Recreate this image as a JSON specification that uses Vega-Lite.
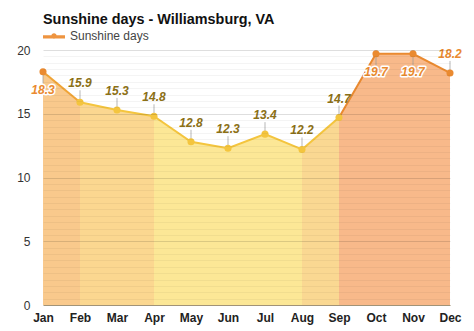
{
  "$schema": "https://vega.github.io/schema/vega-lite/v6.json",
  "width": 407,
  "height": 255,
  "autosize": {"type": "none"},
  "padding": {"left": 43, "top": 50, "right": 24, "bottom": 26},
  "background": "#ffffff",
  "config": {
    "font": "Liberation Sans",
    "view": {"stroke": null}
  },
  "title": {
    "text": "Sunshine days - Williamsburg, VA",
    "anchor": "start",
    "frame": "group",
    "font": "Liberation Sans",
    "fontSize": 14.4,
    "fontWeight": "bold",
    "color": "#111111",
    "offset": -2
  },
  "datasets": {
    "sun": [
      {"month": "Jan", "days": 18.3},
      {"month": "Feb", "days": 15.9},
      {"month": "Mar", "days": 15.3},
      {"month": "Apr", "days": 14.8},
      {"month": "May", "days": 12.8},
      {"month": "Jun", "days": 12.3},
      {"month": "Jul", "days": 13.4},
      {"month": "Aug", "days": 12.2},
      {"month": "Sep", "days": 14.7},
      {"month": "Oct", "days": 19.7},
      {"month": "Nov", "days": 19.7},
      {"month": "Dec", "days": 18.2}
    ],
    "bands": [
      {"seg": "a", "month": "Jan", "days": 18.3},
      {"seg": "a", "month": "Feb", "days": 15.9},
      {"seg": "b", "month": "Feb", "days": 15.9},
      {"seg": "b", "month": "Mar", "days": 15.3},
      {"seg": "b", "month": "Apr", "days": 14.8},
      {"seg": "c", "month": "Apr", "days": 14.8},
      {"seg": "c", "month": "May", "days": 12.8},
      {"seg": "c", "month": "Jun", "days": 12.3},
      {"seg": "c", "month": "Jul", "days": 13.4},
      {"seg": "c", "month": "Aug", "days": 12.2},
      {"seg": "d", "month": "Aug", "days": 12.2},
      {"seg": "d", "month": "Sep", "days": 14.7},
      {"seg": "e", "month": "Sep", "days": 14.7},
      {"seg": "e", "month": "Oct", "days": 19.7},
      {"seg": "e", "month": "Nov", "days": 19.7},
      {"seg": "e", "month": "Dec", "days": 18.2}
    ]
  },
  "encoding": {
    "x": {
      "field": "month",
      "type": "ordinal",
      "sort": ["Jan","Feb","Mar","Apr","May","Jun","Jul","Aug","Sep","Oct","Nov","Dec"],
      "scale": {"type": "point", "padding": 0},
      "axis": {
        "title": null,
        "labelAngle": 0,
        "labelFont": "Liberation Sans",
        "labelFontSize": 12,
        "labelFontWeight": "bold",
        "labelColor": "#222222",
        "labelPadding": 7,
        "ticks": false,
        "domain": true,
        "domainColor": "#b9a98a",
        "grid": false
      }
    },
    "y": {
      "field": "days",
      "type": "quantitative",
      "scale": {"domain": [0, 20], "nice": false},
      "axis": {
        "title": null,
        "values": [0,0.5,1,1.5,2,2.5,3,3.5,4,4.5,5,5.5,6,6.5,7,7.5,8,8.5,9,9.5,10,10.5,11,11.5,12,12.5,13,13.5,14,14.5,15,15.5,16,16.5,17,17.5,18,18.5,19,19.5,20],
        "labelExpr": "datum.value % 5 === 0 ? format(datum.value, 'd') : ''",
        "labelFont": "Liberation Sans",
        "labelFontSize": 12,
        "labelColor": "#333333",
        "labelPadding": 13,
        "ticks": false,
        "tickSize": 0,
        "domain": false,
        "grid": true,
        "gridColor": {"condition": {"test": "datum.value % 5 === 0", "value": "rgba(0,0,0,0.13)"}, "value": "rgba(0,0,0,0.045)"},
        "zindex": 1
      }
    }
  },
  "layer": [
    {
      "data": {"name": "bands"},
      "mark": {"type": "area", "opacity": 1},
      "encoding": {
        "y": {"field": "days", "type": "quantitative", "stack": null},
        "detail": {"field": "seg"},
        "fill": {
          "field": "seg",
          "type": "nominal",
          "scale": {"domain": ["a","b","c","d","e"], "range": ["#f9c98c","#fbd790","#fce796","#fad892","#f8b98a"]},
          "legend": null
        }
      }
    },
    {
      "data": {"name": "bands"},
      "mark": {"type": "line", "strokeWidth": 2},
      "encoding": {
        "detail": {"field": "seg"},
        "stroke": {
          "field": "seg",
          "type": "nominal",
          "scale": {"domain": ["a","b","c","d","e"], "range": ["#f0a436","#f4c53e","#f4c53e","#f4c53e","#ea8a30"]},
          "legend": null
        }
      }
    },
    {
      "data": {"name": "sun"},
      "transform": [{"filter": "indexof(['Jan','Oct','Nov'], datum.month) < 0"}],
      "mark": {"type": "point", "shape": "M0,-0.6V-3", "size": 64, "filled": false, "stroke": "#9a9a9a", "strokeWidth": 1}
    },
    {
      "data": {"name": "sun"},
      "transform": [{"filter": "indexof(['Jan','Oct','Nov'], datum.month) >= 0"}],
      "mark": {"type": "point", "shape": "M0,0.6V3", "size": 64, "filled": false, "stroke": "#9a9a9a", "strokeWidth": 1}
    },
    {
      "data": {"name": "sun"},
      "mark": {"type": "point", "filled": true, "size": 50, "opacity": 1, "shape": "circle"},
      "encoding": {
        "fill": {
          "condition": {"test": "indexof(['Jan','Oct','Nov','Dec'], datum.month) >= 0", "value": "#ea8a30"},
          "value": "#f4c53e"
        }
      }
    },
    {
      "data": {"name": "sun"},
      "transform": [{"filter": "false"}],
      "mark": {"type": "point", "filled": true, "fill": "#ee9440", "opacity": 1},
      "encoding": {
        "shape": {
          "datum": "Sunshine days",
          "scale": {"range": ["M-1,-0.06H1V0.22H-1Z M0.24,0 A0.24,0.24 0 1,1 -0.24,0 A0.24,0.24 0 1,1 0.24,0Z"]},
          "legend": {
            "title": null,
            "orient": "none",
            "legendX": 0,
            "legendY": -25,
            "labelFont": "Liberation Sans",
            "labelFontSize": 12,
            "labelColor": "#444444",
            "labelOffset": 5,
            "symbolSize": 484,
            "symbolFillColor": "#ee9440",
            "symbolStrokeColor": "#ee9440",
            "symbolStrokeWidth": 0,
            "symbolOpacity": 1
          }
        }
      }
    },
    {
      "data": {"name": "sun"},
      "transform": [{"filter": "indexof(['Jan','Oct','Nov'], datum.month) < 0"}],
      "mark": {"type": "text", "dy": -19, "fontSize": 12, "fontWeight": "bold", "fontStyle": "italic", "font": "Liberation Sans"},
      "encoding": {
        "text": {"field": "days", "type": "quantitative", "format": ".1f"},
        "color": {
          "condition": {"test": "datum.month === 'Dec'", "value": "#ea8a30"},
          "value": "#8c7016"
        }
      }
    },
    {
      "data": {"name": "sun"},
      "transform": [{"filter": "indexof(['Jan','Oct','Nov'], datum.month) >= 0"}],
      "mark": {"type": "text", "dy": 18, "fontSize": 12, "fontWeight": "bold", "fontStyle": "italic", "font": "Liberation Sans", "stroke": "#ffffff", "strokeWidth": 3, "strokeJoin": "round", "fill": "#ffffff"},
      "encoding": {
        "text": {"field": "days", "type": "quantitative", "format": ".1f"}
      }
    },
    {
      "data": {"name": "sun"},
      "transform": [{"filter": "indexof(['Jan','Oct','Nov'], datum.month) >= 0"}],
      "mark": {"type": "text", "dy": 18, "fontSize": 12, "fontWeight": "bold", "fontStyle": "italic", "font": "Liberation Sans", "fill": "#ea8a30"},
      "encoding": {
        "text": {"field": "days", "type": "quantitative", "format": ".1f"}
      }
    }
  ]
}
